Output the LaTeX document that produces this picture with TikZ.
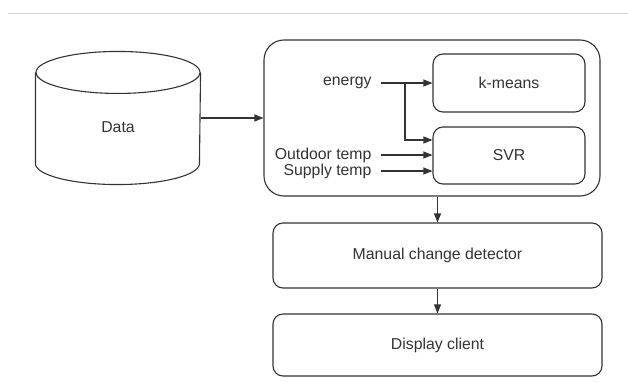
\documentclass[tikz,border=0pt]{standalone}
\usepackage{fontspec}
\setmainfont{Liberation Sans}
\usetikzlibrary{arrows.meta}

\begin{document}
\begin{tikzpicture}[x=1pt,y=1pt,line width=1.1pt,draw=black!80,text=black!80,
  font=\fontsize{15.8}{18}\selectfont,
  box/.style={draw,rounded corners=10pt,minimum width=152pt},
  wide/.style={draw,rounded corners=10pt,minimum width=329pt},
  feed/.style={anchor=east,inner xsep=9pt,inner ysep=0pt},
  arr/.style={-{Triangle[length=9pt,width=7pt]}}]
\useasboundingbox (0,0) rectangle (628,-382);
\draw[black!20,line width=0.8pt] (8,-13) -- (628,-13);
\def\ry{21};
% data store
\node (data) at (118,-118) [minimum width=164pt,minimum height=132pt,inner sep=0pt] {\raisebox{-14.5pt}[0pt][0pt]{Data}};
\draw ([yshift=-\ry pt]data.north west) -- ([yshift=\ry pt]data.south west)
  arc[start angle=180,end angle=360,x radius=82pt,y radius=\ry pt] -- ([yshift=-\ry pt]data.north east);
\draw ([yshift=-\ry pt]data.north) ellipse[x radius=82pt,y radius=\ry pt];
% model block
\node (models) at (432,-118) [draw,rounded corners=20pt,minimum width=336pt,minimum height=156pt] {};
\node (kmeans) at (509,-83) [box,minimum height=58pt] {k-means};
\node (svr) at (509,-155.5) [box,minimum height=57pt] {\raisebox{2pt}{SVR}};
\node (energy) at (381,-83) [feed] {energy};
\node (outdoor) at (381,-155) [feed] {Outdoor temp};
\node (supply) at (381,-171) [feed] {Supply temp};
\coordinate (split) at (405,-83);
% later stages
\node (manual) at (437.5,-255.5) [wide,minimum height=65pt] {\raisebox{2pt}{Manual change detector}};
\node (display) at (437.5,-345) [wide,minimum height=62pt] {Display client};
\draw[arr] (data.east) -- (models.west);
\draw[arr] (energy.east) -- (kmeans.west);
\draw[arr] (split) |- ([yshift=15.5pt]svr.west);
\draw[arr] (outdoor.east) -- (outdoor.east -| svr.west);
\draw[arr] (supply.east) -- (supply.east -| svr.west);
\draw[arr] (models.south -| manual.north) -- (manual.north);
\draw[arr] (manual.south) -- (display.north);
\end{tikzpicture}
\end{document}
